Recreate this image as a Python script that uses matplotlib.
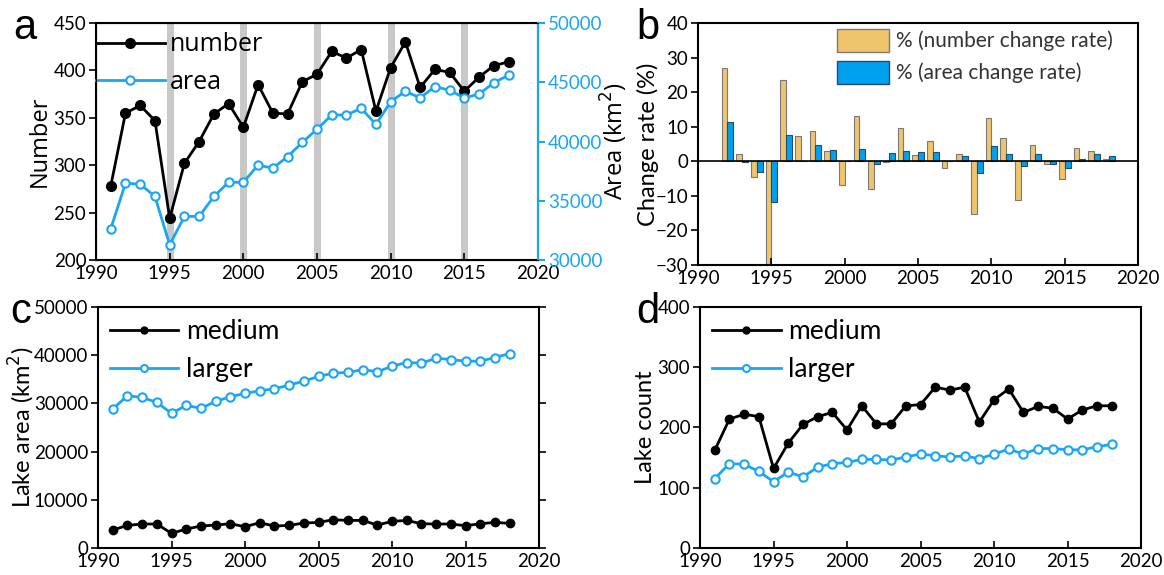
import numpy as np
import matplotlib.pyplot as plt
from matplotlib.patches import Patch
from matplotlib.lines import Line2D

years = list(range(1991, 2019))

# panel a
number = [278, 355, 363, 347, 244, 302, 325, 354, 365, 340, 385, 355, 354, 388,
          396, 420, 413, 422, 357, 403, 430, 382, 401, 398, 378, 393, 405, 409]
area = [32640, 36480, 36400, 35360, 31280, 33680, 33680, 35360, 36560, 36560,
        38000, 37760, 38720, 39920, 41040, 42240, 42240, 42800, 41440, 43360,
        44240, 43680, 44640, 44320, 43680, 44000, 44960, 45600]
highlight_years = [1995, 2000, 2005, 2010, 2015]

# panel b
num_rate = [27.1, 2.0, -4.5, -29.7, 23.6, 7.4, 8.8, 3.0, -6.9, 13.1, -7.9, -0.3,
            9.6, 1.9, 5.9, -1.8, 2.0, -15.2, 12.5, 6.7, -11.3, 4.8, -0.9, -5.1,
            3.9, 2.9, 0.8]
area_rate = [11.5, -0.2, -3.0, -11.8, 7.7, 0.0, 4.8, 3.4, 0.0, 3.7, -0.9, 2.5,
             3.1, 2.8, 2.8, 0.0, 1.5, -3.4, 4.4, 2.0, -1.5, 2.2, -0.8, -1.8,
             0.8, 2.2, 1.5]
rate_years = years[1:]

# panel c
area_medium = [3720, 4690, 4970, 4970, 3030, 3930, 4550, 4760, 5030, 4410, 5240,
               4550, 4690, 5170, 5310, 5860, 5720, 5720, 4760, 5520, 5720, 5030,
               4970, 4970, 4620, 5030, 5310, 5100]
area_larger = [28830, 31590, 31240, 30210, 27930, 29590, 28970, 30410, 31380,
               32070, 32620, 33030, 33790, 34620, 35590, 36280, 36410, 37030,
               36550, 37720, 38480, 38340, 39380, 39100, 38760, 38760, 39520, 40340]

# panel d
count_medium = [162, 214, 222, 218, 132, 174, 205, 218, 225, 196, 236, 206, 206,
                236, 238, 267, 262, 267, 209, 246, 264, 225, 235, 232, 214, 229,
                236, 236]
count_larger = [115, 140, 139, 127, 110, 126, 118, 134, 140, 142, 147, 147, 146,
                151, 156, 153, 151, 153, 148, 156, 164, 156, 165, 165, 163, 163,
                168, 172]

BLUE = '#1AA6F2'
YELLOW = '#EFC46C'
BARBLUE = '#00A0F0'
fa = 'Open Sans'
fc = 'Lato'
TS = 13.5
W, H = 1164, 575

plt.rcParams['font.family'] = fc

fig = plt.figure(figsize=(11.64, 5.75), dpi=100)


def style_ticks(a):
    a.tick_params(axis='x', direction='in', labelsize=TS, length=5, width=1.2)
    a.tick_params(axis='y', direction='out', labelsize=TS, length=5, width=1.2, pad=2)
    for s in a.spines.values():
        s.set_linewidth(1.5)


def put_ylabel(a, axis, xpix):
    # centre the y label at a given figure pixel column
    x0 = a.get_position().x0 * W
    w = a.get_position().width * W
    axis.set_label_coords((xpix - x0) / w, 0.5)
    axis.label.set_verticalalignment('center')


# ---- a ----
ax = fig.add_axes([0.0825, 0.5478, 0.3797, 0.4122])
for yr in highlight_years:
    ax.axvline(yr, color='#c8c8c8', lw=5, zorder=0)
ax.plot(years, number, '-o', color='black', lw=2, ms=7, zorder=3)
ax.set_xlim(1990, 2020)
ax.set_ylim(200, 450)
ax.set_yticks([200, 250, 300, 350, 400, 450])
ax.set_xticks(range(1990, 2021, 5))
style_ticks(ax)
ax.set_ylabel('Number', fontsize=17, family=fa)
put_ylabel(ax, ax.yaxis, 40)
ax2 = ax.twinx()
ax2.plot(years, area, '-o', color=BLUE, lw=2, ms=6, mfc='white', mew=1.5, zorder=3)
ax2.set_ylim(30000, 50000)
ax2.set_yticks([30000, 35000, 40000, 45000, 50000])
ax2.spines['right'].set_color(BLUE)
ax2.spines['right'].set_linewidth(1.5)
ax2.tick_params(axis='y', colors=BLUE, direction='out', labelsize=TS, length=5,
                width=1.5, pad=2)
ax2.set_ylabel('Area (km$^2$)', fontsize=17, family=fa, color='black')
put_ylabel(ax2, ax2.yaxis, 614)
handles = [Line2D([], [], color='black', marker='o', lw=2, ms=7),
           Line2D([], [], color=BLUE, marker='o', lw=2, ms=6, mfc='white', mew=1.5)]
ax.legend(handles, ['number', 'area'], loc='upper left', bbox_to_anchor=(0, 0.96),
          frameon=False, prop={'family': fa, 'size': 18}, handlelength=2.75,
          borderaxespad=0.0, borderpad=0.0, handletextpad=0.2, labelspacing=0.5)
fig.text(0.011, 0.952, 'a', fontsize=30, family='Liberation Sans', va='center')

# ---- b ----
bx = fig.add_axes([0.5997, 0.5391, 0.378, 0.4209])
bx.bar(np.array(rate_years) - 0.2, num_rate, width=0.4, color=YELLOW,
       edgecolor='#7a7a7a', lw=0.8)
bx.bar(np.array(rate_years) + 0.2, area_rate, width=0.4, color=BARBLUE,
       edgecolor='#2a4a6a', lw=0.8)
bx.axhline(0, color='black', lw=1.2)
bx.set_xlim(1990, 2020)
bx.set_ylim(-30, 40)
bx.set_xticks(range(1990, 2021, 5))
bx.set_yticks(range(-30, 41, 10))
style_ticks(bx)
bx.set_ylabel('Change rate (%)', fontsize=17)
put_ylabel(bx, bx.yaxis, 648)
bh = [Patch(facecolor=YELLOW, edgecolor='#7a7a7a'),
      Patch(facecolor=BARBLUE, edgecolor='#2a4a6a')]
bx.legend(bh, ['% (number change rate)', '% (area change rate)'], loc='upper right',
          bbox_to_anchor=(1 - 25 / 440, 0.975), frameon=False, prop={'size': 15},
          handlelength=2.5, handleheight=1.3, borderaxespad=0.0, borderpad=0.0,
          labelspacing=0.45, handletextpad=0.35, labelcolor='#333333')
fig.text(0.547, 0.952, 'b', fontsize=30, family='Liberation Sans', va='center')

# ---- c ----
cx = fig.add_axes([0.0842, 0.047, 0.3789, 0.4191])
cx.plot(years, area_medium, '-o', color='black', lw=2, ms=6)
cx.plot(years, area_larger, '-o', color=BLUE, lw=2, ms=6, mfc='white', mew=1.5)
cx.set_xlim(1990, 2020)
cx.set_ylim(0, 50000)
cx.set_xticks(range(1990, 2021, 5))
cx.set_yticks(range(0, 50001, 10000))
style_ticks(cx)
cx.tick_params(axis='y', right=True)
cx.set_ylabel('Lake area (km$^2$)', fontsize=17)
put_ylabel(cx, cx.yaxis, 22)
ch = [Line2D([], [], color='black', marker='o', lw=2, ms=5),
      Line2D([], [], color=BLUE, marker='o', lw=2, ms=5, mfc='white', mew=1.5)]
cx.legend(ch, ['medium', 'larger'], loc='upper left', frameon=False,
          prop={'size': 19}, handlelength=2.6, borderaxespad=0.15, borderpad=0.3,
          labelspacing=0.5, handletextpad=0.3)
fig.text(0.009, 0.458, 'c', fontsize=30, family='Liberation Sans', va='center')

# ---- d ----
dx = fig.add_axes([0.6014, 0.047, 0.3789, 0.4191])
dx.plot(years, count_medium, '-o', color='black', lw=2, ms=6)
dx.plot(years, count_larger, '-o', color=BLUE, lw=2, ms=6, mfc='white', mew=1.5)
dx.set_xlim(1990, 2020)
dx.set_ylim(0, 400)
dx.set_xticks(range(1990, 2021, 5))
dx.set_yticks(range(0, 401, 100))
style_ticks(dx)
dx.set_ylabel('Lake count', fontsize=17)
put_ylabel(dx, dx.yaxis, 646)
dx.legend(ch, ['medium', 'larger'], loc='upper left', frameon=False,
          prop={'size': 19}, handlelength=2.6, borderaxespad=0.15, borderpad=0.3,
          labelspacing=0.5, handletextpad=0.3)
fig.text(0.547, 0.458, 'd', fontsize=30, family='Liberation Sans', va='center')

fig.savefig('out.png', dpi=100)
